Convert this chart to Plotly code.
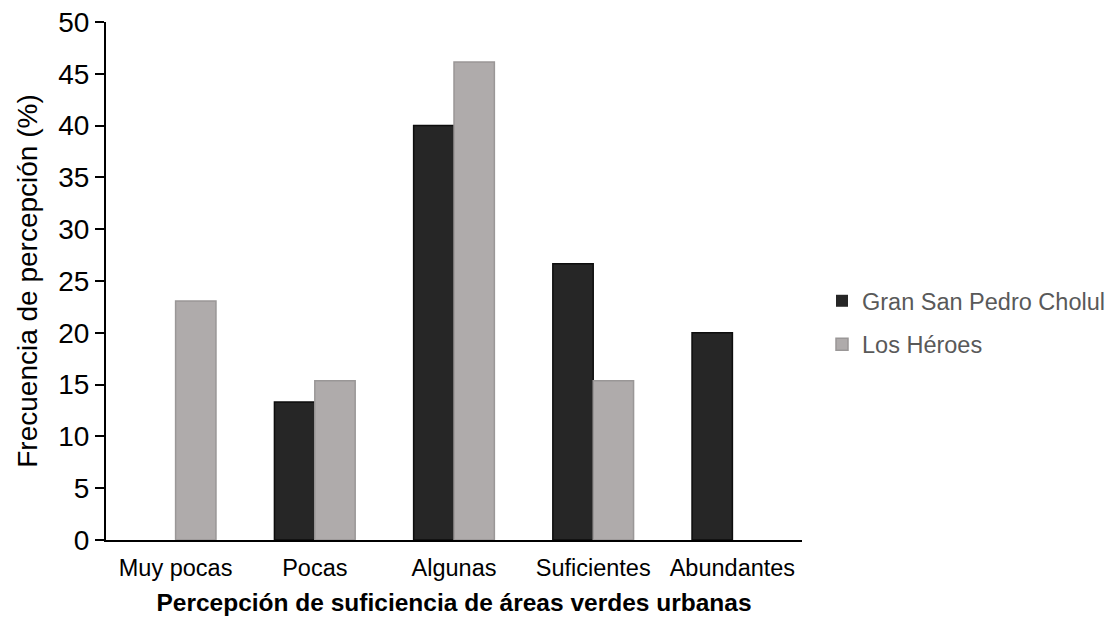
import plotly.graph_objects as go

categories = ["Muy pocas", "Pocas", "Algunas", "Suficientes", "Abundantes"]
gran_san_pedro = [0, 13.33, 40.0, 26.67, 20.0]
los_heroes = [23.08, 15.38, 46.15, 15.38, 0]
series_names = ["Gran San Pedro Cholul", "Los Héroes"]
y_ticks = [0, 5, 10, 15, 20, 25, 30, 35, 40, 45, 50]

FONT = "Liberation Sans, Arial, sans-serif"

W, H = 1111, 618
L, T, PW, PH = 106, 22, 696, 518


def outline(values, w):
    return [w if v > 0 else 0 for v in values]


fig = go.Figure()
fig.add_trace(go.Bar(
    x=categories, y=gran_san_pedro, name=series_names[0], legendgroup="g1",
    marker=dict(color="#262626",
                line=dict(color="#0d0d0d", width=outline(gran_san_pedro, 1.5))),
))
fig.add_trace(go.Bar(
    x=categories, y=los_heroes, name=series_names[1], legendgroup="g2",
    marker=dict(color="#AFABAB",
                line=dict(color="#9a9797", width=outline(los_heroes, 1.5))),
))

fig.update_layout(
    width=W, height=H,
    margin=dict(l=L, r=W - L - PW, t=T, b=H - T - PH, autoexpand=False),
    paper_bgcolor="white", plot_bgcolor="white",
    barmode="group", bargap=0.42, bargroupgap=0,
    font=dict(family=FONT, color="black"),
    legend=dict(
        x=(822 - L) / PW, xanchor="left", y=(540 - 323) / PH, yanchor="middle",
        font=dict(family=FONT, size=23.5, color="#595959"),
        tracegroupgap=10, traceorder="grouped",
        bgcolor="rgba(0,0,0,0)",
    ),
    xaxis=dict(
        automargin=False,
        showline=True, linecolor="black", linewidth=2,
        ticks="", showgrid=False, zeroline=False,
        tickfont=dict(family=FONT, size=23.5, color="black"),
        ticklabelstandoff=6,
        title=dict(text="<b>Percepción de suficiencia de áreas verdes urbanas</b>",
                   font=dict(family=FONT, size=24.5, color="black"), standoff=14),
    ),
    yaxis=dict(
        automargin=False,
        range=[0, 50], tickvals=y_ticks,
        showline=True, linecolor="black", linewidth=2,
        ticks="outside", ticklen=9, tickwidth=2, tickcolor="black",
        showgrid=False, zeroline=False,
        tickfont=dict(family=FONT, size=28, color="black"),
        title=dict(text="Frecuencia de percepción (%)",
                   font=dict(family=FONT, size=28, color="black"), standoff=12),
    ),
)

# remove the browser's default 8px body margin so the figure fills the window
fig.write_html("out.html", config={"displayModeBar": False},
               post_script="document.body.style.margin='0';")
